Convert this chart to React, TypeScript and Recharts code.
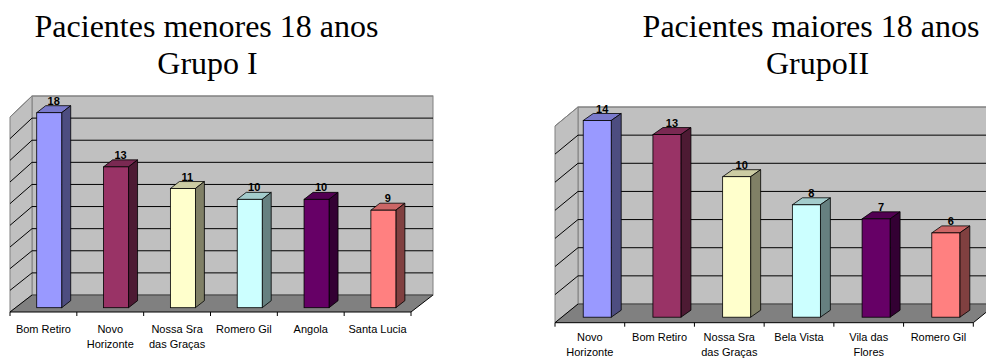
import { BarChart, Bar, XAxis, YAxis, CartesianGrid, Cell } from 'recharts';

// Grupo I (menores de 18 anos)
const groupICategories = ['Bom Retiro', 'Novo\nHorizonte', 'Nossa Sra\ndas Graças', 'Romero Gil', 'Angola', 'Santa Lucia'];
const groupIValues = [18, 13, 11, 10, 10, 9];
const groupITicks = [0, 2, 4, 6, 8, 10, 12, 14, 16, 18];

// Grupo II (maiores de 18 anos)
const groupIICategories = ['Novo\nHorizonte', 'Bom Retiro', 'Nossa Sra\ndas Graças', 'Bela Vista', 'Vila das\nFlores', 'Romero Gil'];
const groupIIValues = [14, 13, 10, 8, 7, 6];
const groupIITicks = [0, 2, 4, 6, 8, 10, 12, 14];

const PALETTE = ['#9999FF', '#993366', '#FFFFCC', '#CCFFFF', '#660066', '#FF8080'];
const SANS = '"Liberation Sans", Arial, sans-serif';
const SERIF = '"Liberation Serif", "Times New Roman", serif';

interface Geometry {
  wallDx: number;
  wallDyTop: number;
  wallDyBottom: number;
  shiftX: number;
  shiftY: number;
  depthX: number;
  depthY: number;
  labelOffset: number;
  lineGap: number;
}

function shade(hex: string, k: number) {
  const n = parseInt(hex.slice(1), 16);
  const r = Math.round(((n >> 16) & 255) * k);
  const g = Math.round(((n >> 8) & 255) * k);
  const b = Math.round((n & 255) * k);
  return `rgb(${r},${g},${b})`;
}

// back wall, side wall and floor drawn from the grid's own lines
const makeGridLine = (geo: Geometry) => (props: any) => {
  const { x1, x2, y1, index } = props;
  const top = props.y;
  const h = props.height;
  const backTop = top - geo.wallDyTop;
  const backBottom = top + h - geo.wallDyBottom;
  const f = (y1 - top) / h;
  const by = backTop + f * (backBottom - backTop);
  const isTop = Math.abs(y1 - top) < 0.5;
  const isBottom = Math.abs(y1 - (top + h)) < 0.5;
  const dx = geo.wallDx;
  return (
    <g key={`gl-${index}`}>
      {index === 0 && (
        <g>
          <rect x={x1 + dx} y={backTop} width={x2 - x1} height={backBottom - backTop} fill="#C0C0C0" stroke="#808080" />
          <polygon
            points={`${x1},${top} ${x1 + dx},${backTop} ${x1 + dx},${backBottom} ${x1},${top + h}`}
            fill="#C0C0C0"
            stroke="#808080"
          />
          <polygon
            points={`${x1},${top + h} ${x1 + dx},${backBottom} ${x2 + dx},${backBottom} ${x2},${top + h}`}
            fill="#808080"
            stroke="none"
          />
          <line x1={x2} y1={top + h} x2={x2 + dx} y2={backBottom} stroke="#000" />
        </g>
      )}
      <line x1={x1 + dx} y1={by} x2={x2 + dx} y2={by} stroke={isTop ? '#808080' : isBottom ? '#404040' : '#000'} />
      <line x1={x1} y1={y1} x2={x1 + dx} y2={by} stroke={isTop ? '#808080' : '#000'} />
    </g>
  );
};

const makeBarShape = (geo: Geometry) => (props: any) => {
  const { x, y, width, height, fill, value } = props;
  if (width == null || height == null) return <g />;
  const fx = x + geo.shiftX;
  const fy = y - geo.shiftY;
  const bottom = y + height - geo.shiftY;
  const right = fx + width;
  const { depthX: dX, depthY: dY } = geo;
  const v = Array.isArray(value) ? value[1] - value[0] : value;
  return (
    <g>
      <polygon
        points={`${fx},${fy} ${fx + dX},${fy - dY} ${right + dX},${fy - dY} ${right},${fy}`}
        fill={shade(fill, 0.8)}
        stroke="#000"
        strokeWidth={0.8}
      />
      <polygon
        points={`${right},${fy} ${right + dX},${fy - dY} ${right + dX},${bottom - dY} ${right},${bottom}`}
        fill={shade(fill, 0.5)}
        stroke="#000"
        strokeWidth={0.8}
      />
      <rect x={fx} y={fy} width={width} height={bottom - fy} fill={fill} stroke="#000" strokeWidth={0.8} />
      <text
        x={fx + width / 2 + dX / 2}
        y={fy - dY - 1}
        textAnchor="middle"
        fontFamily={SANS}
        fontSize={11}
        fontWeight="bold"
        fill="#000"
      >
        {v}
      </text>
    </g>
  );
};

const makeCategoryTick = (geo: Geometry) => (props: any) => {
  const { x, y, payload, index, visibleTicksCount } = props;
  const half = payload.offset || 33;
  const lines = String(payload.value).split('\n');
  return (
    <g>
      <line x1={x - half} y1={y} x2={x - half} y2={y + 4} stroke="#000" />
      {index === visibleTicksCount - 1 && <line x1={x + half} y1={y} x2={x + half} y2={y + 4} stroke="#000" />}
      <text x={x} y={y + geo.labelOffset} textAnchor="middle" fontFamily={SANS} fontSize={11} fill="#000">
        {lines.map((l, i) => (
          <tspan key={i} x={x} dy={i === 0 ? 0 : geo.lineGap}>
            {l}
          </tspan>
        ))}
      </text>
    </g>
  );
};

interface PanelProps {
  categories: string[];
  values: number[];
  ticks: number[];
  width: number;
  height: number;
  margin: { top: number; right: number; bottom: number; left: number };
  gap: string;
  geo: Geometry;
}

function Panel({ categories, values, ticks, width, height, margin, gap, geo }: PanelProps) {
  const data = categories.map((name, i) => ({ name, value: values[i] }));
  return (
    <BarChart width={width} height={height} data={data} margin={margin} barCategoryGap={gap}>
      <CartesianGrid vertical={false} horizontal={makeGridLine(geo)} />
      <XAxis
        dataKey="name"
        interval={0}
        height={30}
        tickLine={false}
        tickSize={0}
        tickMargin={0}
        axisLine={{ stroke: '#000' }}
        tick={makeCategoryTick(geo)}
      />
      <YAxis hide interval={0} domain={[0, ticks[ticks.length - 1]]} ticks={ticks} />
      <Bar dataKey="value" isAnimationActive={false} shape={makeBarShape(geo)}>
        {data.map((_, i) => (
          <Cell key={`c-${i}`} fill={PALETTE[i % PALETTE.length]} />
        ))}
      </Bar>
    </BarChart>
  );
}

export default function App() {
  return (
    <div style={{ position: 'absolute', left: 0, top: 0, width: 986, height: 358, overflow: 'hidden', background: '#fff' }}>
      <div style={{ position: 'absolute', left: 0, top: 0 }}>
        <Panel
          categories={groupICategories}
          values={groupIValues}
          ticks={groupITicks}
          width={450}
          height={380}
          margin={{ top: 117, right: 39, bottom: 38, left: 10 }}
          gap="31%"
          geo={{
            wallDx: 22, wallDyTop: 21, wallDyBottom: 17, shiftX: 6, shiftY: 4.3, depthX: 9, depthY: 7,
            labelOffset: 20.7, lineGap: 15.6,
          }}
        />
      </div>
      <div style={{ position: 'absolute', left: 500, top: 0 }}>
        <Panel
          categories={groupIICategories}
          values={groupIIValues}
          ticks={groupIITicks}
          width={520}
          height={380}
          margin={{ top: 126, right: 46.7, bottom: 27.3, left: 55 }}
          gap="30%"
          geo={{
            wallDx: 23, wallDyTop: 19, wallDyBottom: 18.7, shiftX: 7.3, shiftY: 5.5, depthX: 10, depthY: 7,
            labelOffset: 18.5, lineGap: 14.5,
          }}
        />
      </div>
      <svg width={986} height={90} style={{ position: 'absolute', left: 0, top: 0 }}>
        <text x={206.5} y={36.7} textAnchor="middle" fontFamily={SERIF} fontSize={32} fill="#000">
          Pacientes menores 18 anos
        </text>
        <text x={207.5} y={74} textAnchor="middle" fontFamily={SERIF} fontSize={32} fill="#000">
          Grupo I
        </text>
        <text x={811} y={36.7} textAnchor="middle" fontFamily={SERIF} fontSize={32} fill="#000">
          Pacientes maiores 18 anos
        </text>
        <text x={817.5} y={74} textAnchor="middle" fontFamily={SERIF} fontSize={32} fill="#000">
          GrupoII
        </text>
      </svg>
    </div>
  );
}
